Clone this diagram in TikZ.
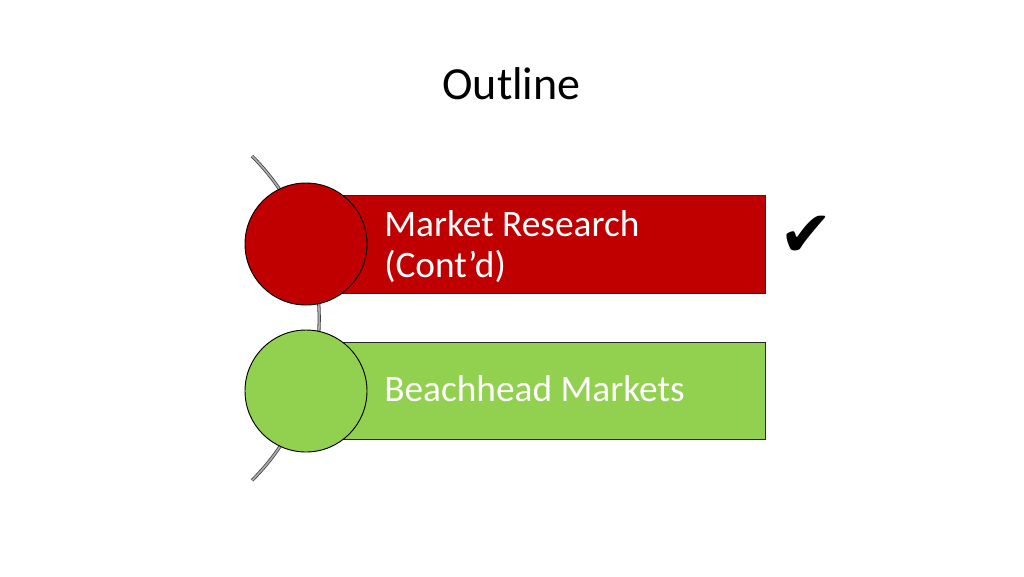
\documentclass[tikz,border=0pt]{standalone}
\usepackage{fontspec}
\setmainfont{Carlito}
\newfontfamily\symfont{DejaVu Sans}
\definecolor{ored}{HTML}{C00000}
\definecolor{ogreen}{HTML}{92D050}
\definecolor{arcgray}{HTML}{8C8C8C}
\begin{document}
\begin{tikzpicture}[x=0.75pt,y=0.75pt,
  barbox/.style={draw=black!85, line width=0.7pt},
  disc/.style={circle, draw=black, line width=0.7pt, minimum size=91.5pt, inner sep=0pt},
  bartext/.style={text=white, font=\fontsize{28}{30.75}\selectfont, align=left, inner sep=0pt, anchor=north west}]
\useasboundingbox (0,0) rectangle (1024,-576);
% title
\node[font=\fontsize{34.5}{40}\selectfont, anchor=base] (title) at (511.5,-99) {Outline};
% arc
\draw[black!75, line width=2.4pt] (252,-156) arc[start angle=45, end angle=-45, radius=229.4];
\draw[arcgray!70, line width=1.2pt] (252,-156) arc[start angle=45, end angle=-45, radius=229.4];
% bars
\draw[barbox, fill=ored] (305,-195) rectangle (765,-293);
\draw[barbox, fill=ogreen] (305,-342) rectangle (765,-439);
% circles
\node[disc, fill=ored] (c1) at (306,-244) {};
\node[disc, fill=ogreen] (c2) at (306,-391) {};
% texts
\node[bartext] (t1) at (384,-210) {Market Research\\(Cont’d)};
\node[bartext, anchor=base west] (t2) at (384,-401) {Beachhead Markets};
% check
\node[font=\symfont\fontsize{48}{48}\selectfont, inner sep=0pt] (chk) at (806,-236) {✔};
\end{tikzpicture}
\end{document}
